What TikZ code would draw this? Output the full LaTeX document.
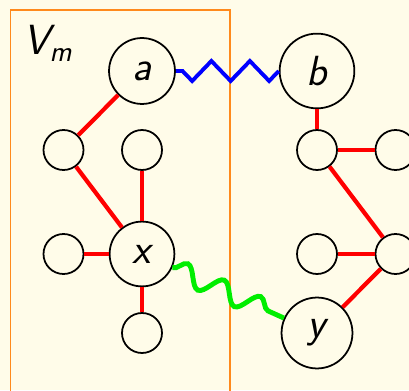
\documentclass[tikz,border=0pt]{standalone}
\usepackage{amsmath}
\usepackage{tikz}
\usetikzlibrary{positioning,decorations.pathmorphing}
\definecolor{slidebg}{HTML}{FFFCE9}
\definecolor{boxorange}{HTML}{FF8A1C}
\definecolor{lime}{HTML}{00EE00}
\tikzset{
  % knoten
  vx/.style={circle,draw=black,line width=1pt,inner sep=0.276cm,
             font=\fontsize{24}{28}\selectfont\sffamily\itshape},
  vs/.style={circle,draw=black,line width=1pt,inner sep=0pt,minimum size=0.8cm},
  % kanten
  te/.style={draw=red,line width=2.4pt},
  zz/.style={draw=blue,line width=2.2pt,decorate,
             decoration={zigzag,amplitude=0.2cm,segment length=0.77cm}},
  sn/.style={draw=lime,line width=2.8pt,decorate,
             decoration={snake,amplitude=0.2cm,segment length=0.8cm}},
}
\begin{document}
\begin{tikzpicture}
\useasboundingbox (0,0) rectangle (8.18,7.8);
  \fill[slidebg] (0,0) rectangle (8.18,7.8);
  \draw[boxorange,line width=0.8pt] (0.21,-0.3) rectangle (4.6,7.6);
  \node[anchor=base west,inner sep=0pt,font=\fontsize{24}{28}\selectfont\sffamily\itshape]
    (vm) at (0.46,6.7) {V$_{\text{\sffamily\itshape m}}$};
  \node[vx] (a) at (2.84,6.38) {a};
  \node[vx] (b) at (6.34,6.38) {b};
  \node[vs] (l1) at (1.27,4.8) {};
  \node[vs] (l2) at (2.84,4.8) {};
  \node[vs] (r1) at (6.34,4.8) {};
  \node[vs] (r2) at (7.91,4.8) {};
  \node[vs] (l3) at (1.27,2.72) {};
  \node[vx] (x) at (2.84,2.72) {x};
  \node[vs] (r3) at (6.34,2.72) {};
  \node[vs] (r4) at (7.91,2.72) {};
  \node[vs] (l4) at (2.84,1.14) {};
  \node[vx] (y) at (6.34,1.14) {y};
  \draw[te] (a) -- (l1);
  \draw[te] (l1) -- (x);
  \draw[te] (l2) -- (x);
  \draw[te] (l3) -- (x);
  \draw[te] (x) -- (l4);
  \draw[te] (b) -- (r1);
  \draw[te] (r1) -- (r2);
  \draw[te] (r1) -- (r4);
  \draw[te] (r3) -- (r4);
  \draw[te] (r4) -- (y);
  \draw[zz] (b) -- (a);
  \draw[sn] (x) -- (y);
\end{tikzpicture}
\end{document}
